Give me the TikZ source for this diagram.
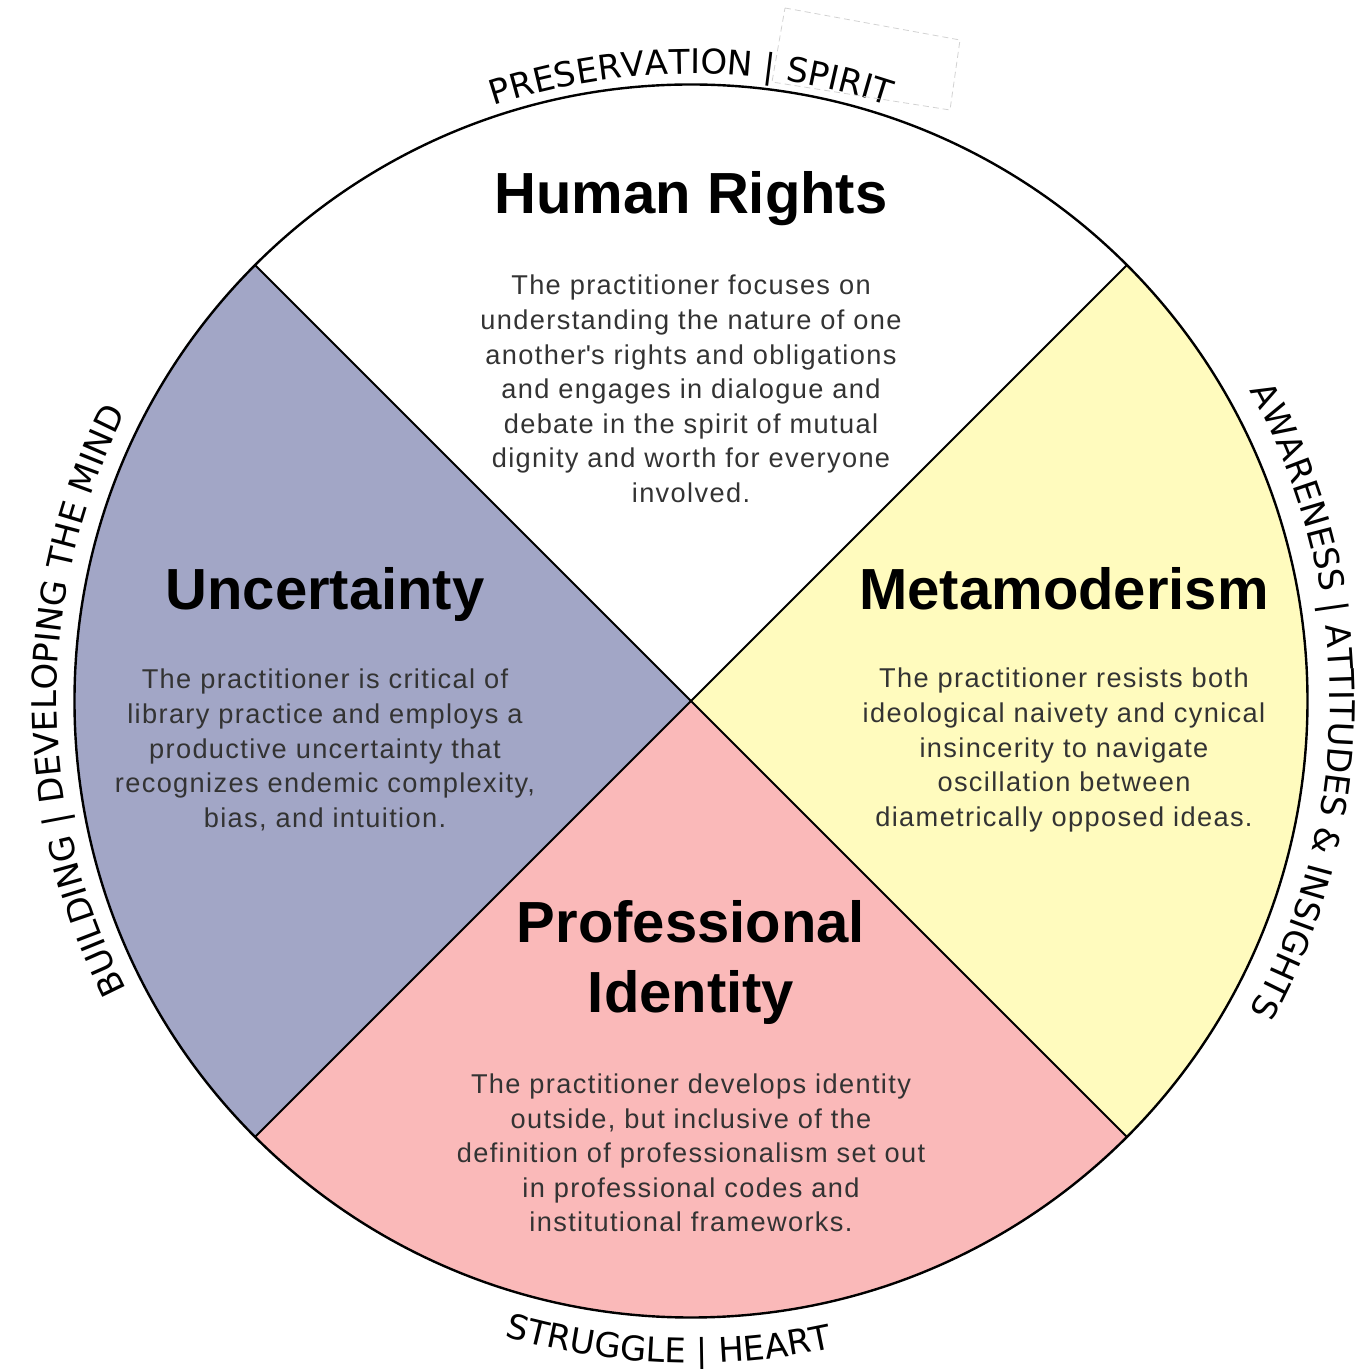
\documentclass[tikz,border=0pt]{standalone}
\usepackage{fontspec}
\setmainfont{Liberation Sans}
\newfontfamily\rimfont{DejaVu Sans}
\newfontfamily\blurbfont[LetterSpace=5]{Liberation Sans}
\usetikzlibrary{decorations.text}
\definecolor{uncert}{HTML}{A2A6C6}
\definecolor{meta}{HTML}{FFFBBE}
\definecolor{prof}{HTML}{FAB9B9}
\definecolor{bodygray}{HTML}{333333}
\def\wheelr{616.5}
\begin{document}
\begin{tikzpicture}[x=0.5pt,y=0.5pt,
  title/.style={font=\fontsize{29}{35}\selectfont\bfseries, anchor=base, inner sep=0pt},
  blurb/.style={font=\blurbfont\fontsize{13.6}{17.3}\selectfont, text=bodygray, align=center, inner sep=0pt},
  rim/.style={decorate, decoration={text along path, text align=center,
    text format delimiters={[}{]}, text={[\rimfont\fontsize{17}{20}\selectfont]#1}}}]
\useasboundingbox (-691,-668) rectangle (680,701);
\coordinate (c) at (0,0);
\coordinate (ne) at (45:\wheelr);
\coordinate (nw) at (135:\wheelr);
\coordinate (sw) at (225:\wheelr);
\coordinate (se) at (315:\wheelr);
\fill[uncert] (c) -- (nw) arc[start angle=135, end angle=225, radius=\wheelr] -- cycle;
\fill[prof] (c) -- (sw) arc[start angle=225, end angle=315, radius=\wheelr] -- cycle;
\fill[meta] (c) -- (se) arc[start angle=-45, end angle=45, radius=\wheelr] -- cycle;
\draw[line width=1pt] (nw) -- (se);
\draw[line width=1pt] (ne) -- (sw);
\draw[line width=1.2pt] (c) circle[radius=\wheelr];

\node[title] (hr) at (0,487) {Human Rights};
\node[blurb] (hrtext) at (0,312) {The practitioner focuses on\\understanding the nature of one\\another\textquotesingle s rights and obligations\\and engages in dialogue and\\debate in the spirit of mutual\\dignity and worth for everyone\\involved.};
\node[title] (un) at (-366,91) {Uncertainty};
\node[blurb] (untext) at (-366,-49) {The practitioner is critical of\\library practice and employs a\\productive uncertainty that\\recognizes endemic complexity,\\bias, and intuition.};
\node[title] (mm) at (373,91) {Metamoderism};
\node[blurb] (mmtext) at (373,-49) {The practitioner resists both\\ideological naivety and cynical\\insincerity to navigate\\oscillation between\\diametrically opposed ideas.};
\node[title] (pro) at (0,-242) {Professional};
\node[title] (ident) at (0,-312) {Identity};
\node[blurb] (protext) at (0,-452) {The practitioner develops identity\\outside, but inclusive of the\\definition of professionalism set out\\in professional codes and\\institutional frameworks.};

\path[rim={PRESERVATION | SPIRIT}] (150:627) arc[start angle=150, end angle=30, radius=627];
\path[rim={AWARENESS | ATTITUDES {\&} INSIGHTS}] (45:639) arc[start angle=45, end angle=-45, radius=639];
\path[rim={STRUGGLE | HEART}] (208:662) arc[start angle=208, end angle=328, radius=662];
\path[rim={BUILDING | DEVELOPING THE MIND}] (235:634) arc[start angle=235, end angle=125, radius=634];

\draw[gray!35, densely dashed, line width=0.4pt] (94,693) -- (269,661) -- (259,591) -- (81,619) -- cycle;
\end{tikzpicture}
\end{document}
